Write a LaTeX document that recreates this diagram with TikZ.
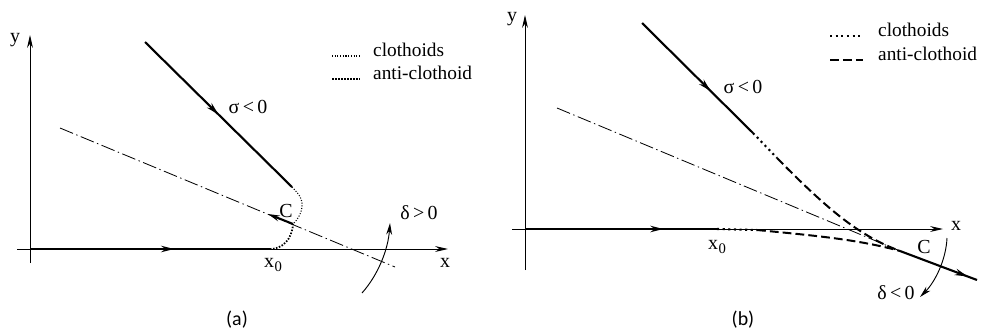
\documentclass[tikz,border=0pt]{standalone}
\usepackage{fontspec}
\setmainfont{Liberation Serif}
\newfontfamily\capfont{Carlito}
\usetikzlibrary{arrows.meta,decorations.markings}
\tikzset{
  axisline/.style={line width=0.8pt,-{Stealth[length=11pt,width=5pt]}},
  thickpath/.style={line width=1.8pt},
  midarrow/.style={postaction={decorate},decoration={markings,mark=at position #1 with {\arrow{Stealth[length=11pt,width=5.5pt]}}}},
  finedot/.style={line width=0.9pt,dash pattern=on 0.9pt off 1.4pt},
  densedot/.style={line width=1.5pt,dash pattern=on 1.3pt off 1.3pt},
  bigdot/.style={line width=1.8pt,dash pattern=on 1.8pt off 3pt},
  antidash/.style={line width=1.7pt,dash pattern=on 7.5pt off 3.5pt},
  dashdot/.style={line width=0.7pt,dash pattern=on 12pt off 3pt on 1.2pt off 3pt},
  lbl/.style={font=\fontsize{17}{19}\selectfont,inner sep=0pt},
  leg/.style={font=\fontsize{16.5}{19}\selectfont,inner sep=0pt,anchor=west},
  captext/.style={font=\capfont\fontsize{17}{19}\selectfont,inner sep=0pt},
}
\newcommand{\xnought}{x\kern0.5pt\raisebox{-0.45ex}{\fontsize{12.5}{12}\selectfont 0}}
\begin{document}
\begin{tikzpicture}[x=0.03cm,y=-0.03cm]
\useasboundingbox (0,0) rectangle (981,334);
% ================= (a)
\coordinate (aO) at (30,249);
\coordinate (aYb) at (30,263);
\coordinate (aYt) at (30,35);
\coordinate (aXl) at (17,249);
\coordinate (aXr) at (448,249);
\draw[axisline] (aYb) -- (aYt);
\draw[axisline] (aXl) -- (aXr);
\node[lbl] (ay) at (15,40) {y};
\node[lbl] (ax) at (445,263) {x};
\coordinate (aX0) at (270,249);
\coordinate (aU0) at (145,42);
\coordinate (aU1) at (292,187);
\coordinate (aC) at (293,224);
\coordinate (aCa) at (268,214);
\draw[thickpath,midarrow=0.6] (aO) -- (aX0);
\draw[thickpath,midarrow=0.5] (aU0) -- (aU1);
\coordinate (aD0) at (60,128);
\coordinate (aD1) at (395,267);
\draw[dashdot] (aD0) -- (aD1);
\draw[finedot] (aU1) .. controls (300,195) and (303,200) .. (302,207) .. controls (301,215) and (297,220) .. (aC);
\draw[densedot] (aX0) .. controls (282,249) and (292,240) .. (aC);
\draw[thickpath,-{Stealth[length=10pt,width=5pt]}] (aC) -- (aCa);
\node[lbl] (aCl) at (286,211) {C};
\node[lbl] (ax0) at (273,265) {\xnought};
\node[lbl] (asig) at (248,107) {σ\,<\,0};
\coordinate (aA0) at (362,293);
\coordinate (aA1) at (390,223);
\draw[line width=0.8pt,-{Stealth[length=10pt,width=5pt]}] (aA0) .. controls (378,275) and (388,250) .. (aA1);
\node[lbl] (adel) at (419,213) {δ\,>\,0};
\coordinate (aL1a) at (332,56);
\coordinate (aL1b) at (360,56);
\coordinate (aL2a) at (332,79);
\coordinate (aL2b) at (360,79);
\draw[finedot] (aL1a) -- (aL1b);
\draw[densedot] (aL2a) -- (aL2b);
\node[leg] (aLt1) at (373,50) {clothoids};
\node[leg] (aLt2) at (373,73) {anti-clothoid};
\node[captext] (acap) at (237,320) {(a)};
% ================= (b)
\coordinate (bO) at (525,229);
\coordinate (bYb) at (525,270);
\coordinate (bYt) at (525,15);
\coordinate (bXl) at (512,229);
\coordinate (bXr) at (943,229);
\draw[axisline] (bYb) -- (bYt);
\draw[axisline] (bXl) -- (bXr);
\node[lbl] (by) at (512,19) {y};
\node[lbl] (bx) at (956,226) {x};
\coordinate (bX0) at (717,229);
\coordinate (bX1) at (757,230);
\coordinate (bU0) at (642,23);
\coordinate (bU1) at (753,133);
\coordinate (bU2) at (777,158);
\coordinate (bC) at (900,251);
\coordinate (bE) at (977,280);
\coordinate (bD0) at (557,108);
\draw[dashdot] (bD0) -- (bC);
\draw[thickpath,midarrow=0.72] (bO) -- (bX0);
\draw[thickpath,midarrow=0.62] (bU0) -- (bU1);
\draw[bigdot] (bX0) -- (bX1);
\draw[bigdot] (bU1) -- (bU2);
\draw[antidash] (bU2) .. controls (830,212) and (860,236) .. (bC);
\draw[antidash] (bX1) .. controls (820,236) and (860,240) .. (bC);
\draw[thickpath,midarrow=0.88] (bC) -- (bE);
\node[lbl] (bCl) at (924,247) {C};
\node[lbl] (bx0) at (717,247) {\xnought};
\node[lbl] (bsig) at (743,87) {σ\,<\,0};
\coordinate (bA0) at (947,238);
\coordinate (bA1) at (920,297);
\draw[line width=0.8pt,-{Stealth[length=10pt,width=5pt]}] (bA0) .. controls (946,260) and (935,282) .. (bA1);
\node[lbl] (bdel) at (896,293) {δ\,<\,0};
\coordinate (bL1a) at (830,36);
\coordinate (bL1b) at (863,36);
\coordinate (bL2a) at (830,60);
\coordinate (bL2b) at (863,60);
\draw[bigdot] (bL1a) -- (bL1b);
\draw[antidash] (bL2a) -- (bL2b);
\node[leg] (bLt1) at (878,30) {clothoids};
\node[leg] (bLt2) at (878,54) {anti-clothoid};
\node[captext] (bcap) at (743,320) {(b)};
\end{tikzpicture}
\end{document}
